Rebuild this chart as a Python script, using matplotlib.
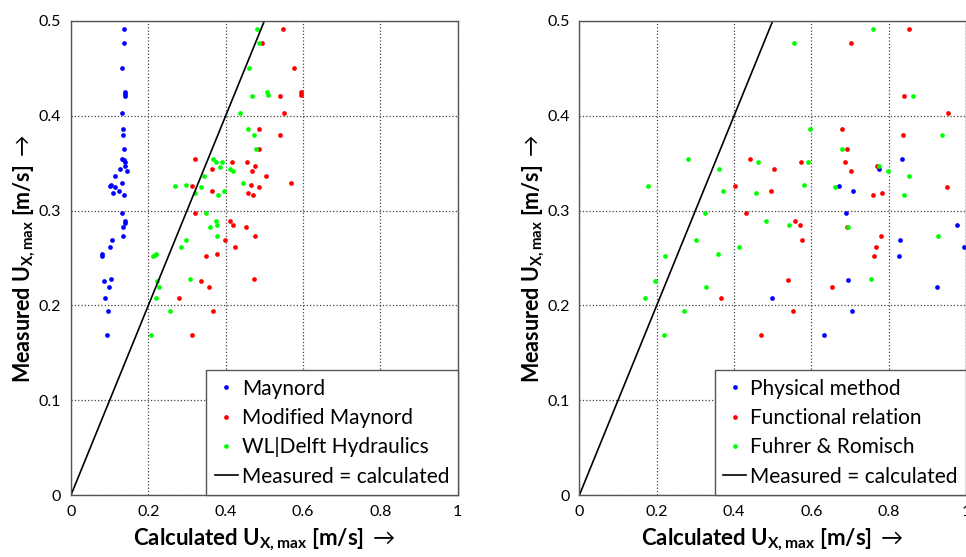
import matplotlib
matplotlib.use("Agg")
import matplotlib.pyplot as plt

# fonts - Lato is the closest thing to Calibri we have here
plt.rcParams['font.family'] = ['Lato', 'DejaVu Sans']
plt.rcParams['mathtext.fontset'] = 'custom'
plt.rcParams['mathtext.rm'] = 'Lato'
plt.rcParams['mathtext.bf'] = 'Lato:bold'
plt.rcParams['mathtext.it'] = 'Lato:italic'

# ---------------- left panel data ----------------
maynord_x = [0.138, 0.138, 0.133, 0.140, 0.140, 0.139, 0.131, 0.1345, 0.135, 0.138,
             0.133, 0.138, 0.140, 0.128, 0.139, 0.144, 0.113, 0.101, 0.104, 0.113,
             0.131, 0.108, 0.125, 0.138, 0.131, 0.139, 0.139, 0.134, 0.135, 0.105,
             0.100, 0.080, 0.080, 0.085, 0.104, 0.099, 0.088, 0.096, 0.094]
maynord_y = [0.4916, 0.4768, 0.4508, 0.4248, 0.4227, 0.4209, 0.403, 0.386, 0.380, 0.365,
             0.3548, 0.3534, 0.3513, 0.3439, 0.3467, 0.342, 0.3368, 0.3263, 0.3267, 0.3246,
             0.3288, 0.3186, 0.321, 0.316, 0.2975, 0.2894, 0.2873, 0.2827, 0.2732, 0.269,
             0.2613, 0.2542, 0.2518, 0.2261, 0.2282, 0.2194, 0.2078, 0.194, 0.1685]

mod_maynord_x = [0.547, 0.495, 0.577, 0.541, 0.594, 0.594, 0.550, 0.485, 0.541, 0.487,
                 0.321, 0.417, 0.454, 0.476, 0.365, 0.468, 0.504, 0.568, 0.465, 0.314,
                 0.486, 0.365, 0.457, 0.471, 0.321, 0.410, 0.418, 0.452, 0.475, 0.399,
                 0.425, 0.349, 0.378, 0.337, 0.357, 0.473, 0.279, 0.368, 0.312]
mod_maynord_y = [0.4916, 0.4768, 0.4508, 0.4209, 0.4248, 0.4219, 0.403, 0.386, 0.380, 0.365,
                 0.3548, 0.3516, 0.3516, 0.3467, 0.3439, 0.342, 0.3368, 0.3288, 0.327, 0.3263,
                 0.325, 0.321, 0.3186, 0.316, 0.2975, 0.2894, 0.2848, 0.283, 0.2735, 0.269,
                 0.2613, 0.2518, 0.2542, 0.2261, 0.2194, 0.2282, 0.2078, 0.194, 0.1685]

wl_delft_x = [0.482, 0.486, 0.4605, 0.506, 0.509, 0.469, 0.4365, 0.457, 0.474, 0.479,
              0.368, 0.374, 0.391, 0.386, 0.410, 0.419, 0.344, 0.445, 0.268, 0.298,
              0.337, 0.396, 0.320, 0.379, 0.349, 0.375, 0.378, 0.359, 0.378, 0.2975,
              0.285, 0.212, 0.217, 0.221, 0.222, 0.227, 0.309, 0.221, 0.256, 0.206]
wl_delft_y = [0.4916, 0.4768, 0.4508, 0.4251, 0.4219, 0.4209, 0.403, 0.386, 0.380, 0.365,
              0.3548, 0.3516, 0.3516, 0.3463, 0.3439, 0.342, 0.3368, 0.3288, 0.3263, 0.3267,
              0.325, 0.321, 0.3186, 0.316, 0.2975, 0.2894, 0.2848, 0.283, 0.2735, 0.269,
              0.2613, 0.2518, 0.2535, 0.2542, 0.2261, 0.2194, 0.2282, 0.2078, 0.194, 0.1685]

# ---------------- right panel data ----------------
physical_x = [0.834, 0.774, 0.6717, 0.707, 0.690, 0.978, 0.830, 0.995, 0.827, 0.694,
              0.925, 0.498, 0.705, 0.633]
physical_y = [0.3548, 0.3439, 0.3263, 0.321, 0.2975, 0.2848, 0.2687, 0.2613, 0.2518, 0.2265,
              0.2194, 0.2078, 0.1938, 0.1685]

functional_x = [0.852, 0.7027, 0.839, 0.9545, 0.679, 0.837, 0.6916, 0.440, 0.574, 0.6873,
                0.5027, 0.7027, 0.769, 0.402, 0.950, 0.495, 0.759, 0.784, 0.431, 0.558,
                0.5716, 0.692, 0.780, 0.575, 0.767, 0.761, 0.539, 0.654, 0.366, 0.5527, 0.470]
functional_y = [0.4916, 0.4768, 0.4209, 0.403, 0.386, 0.380, 0.365, 0.3548, 0.3516, 0.3516,
                0.3439, 0.342, 0.3467, 0.3263, 0.325, 0.321, 0.316, 0.3186, 0.2975, 0.289,
                0.2848, 0.2827, 0.2732, 0.2687, 0.2613, 0.2518, 0.2265, 0.2194, 0.2078, 0.1938, 0.1685]

fuhrer_x = [0.760, 0.5545, 0.864, 0.5966, 0.939, 0.679, 0.282, 0.463, 0.5907, 0.776,
            0.362, 0.799, 0.852, 0.581, 0.1775, 0.661, 0.372, 0.4577, 0.839, 0.326,
            0.483, 0.542, 0.694, 0.9286, 0.301, 0.413, 0.2215, 0.358, 0.195, 0.753,
            0.328, 0.169, 0.2706, 0.218]
fuhrer_y = [0.4916, 0.4768, 0.4209, 0.386, 0.380, 0.365, 0.3548, 0.3516, 0.3516, 0.3467,
            0.3439, 0.342, 0.3368, 0.327, 0.3263, 0.325, 0.321, 0.3186, 0.316, 0.2975,
            0.289, 0.2848, 0.2827, 0.2732, 0.269, 0.2613, 0.2518, 0.2542, 0.2261, 0.2282,
            0.2194, 0.2078, 0.194, 0.1685]

x_ticks = [0, 0.2, 0.4, 0.6, 0.8, 1]
x_ticklabels = ['0', '0.2', '0.4', '0.6', '0.8', '1']
y_ticks = [0, 0.1, 0.2, 0.3, 0.4, 0.5]
y_ticklabels = ['0', '0.1', '0.2', '0.3', '0.4', '0.5']

XLABEL = r'Calculated U$_{\mathbf{X,max}}$ [m/s] $\rightarrow$'
YLABEL = r'Measured U$_{\mathbf{X,max}}$ [m/s] $\rightarrow$'


def style_axes(ax):
    ax.set_xlim(0, 1)
    ax.set_ylim(0, 0.5)
    ax.set_xticks(x_ticks)
    ax.set_xticklabels(x_ticklabels)
    ax.set_yticks(y_ticks)
    ax.set_yticklabels(y_ticklabels)
    ax.tick_params(length=0, labelsize=11.5, pad=7)
    ax.grid(True, linestyle=':', color='#444444', linewidth=0.9)
    ax.set_axisbelow(True)
    for s in ax.spines.values():
        s.set_color('#555555')
        s.set_linewidth(1.0)
    ax.set_xlabel(XLABEL, fontsize=16, fontweight='bold', labelpad=5)
    ax.set_ylabel(YLABEL, fontsize=15.5, fontweight='bold', labelpad=1)


def scatter(ax, x, y, color, label):
    # plain dots, no line
    ax.plot(x, y, linestyle='none', marker='o', markersize=3.4,
            markeredgewidth=0, color=color, label=label)


def add_legend(ax):
    leg = ax.legend(loc='lower right', borderaxespad=0, fontsize=15,
                    handlelength=1.1, handletextpad=0.2, borderpad=0.4,
                    labelspacing=0.45, fancybox=False, framealpha=1,
                    edgecolor='#555555')
    leg.get_frame().set_linewidth(1.0)


def main():
    fig = plt.figure(figsize=(9.66, 5.57), dpi=100)
    ax1 = fig.add_axes([0.0735, 0.1113, 0.4003, 0.851])
    ax2 = fig.add_axes([0.5998, 0.1113, 0.4002, 0.851])

    scatter(ax1, maynord_x, maynord_y, '#0000ff', 'Maynord')
    scatter(ax1, mod_maynord_x, mod_maynord_y, '#ff0000', 'Modified Maynord')
    scatter(ax1, wl_delft_x, wl_delft_y, '#00ff00', 'WL|Delft Hydraulics')
    ax1.plot([0, 1], [0, 1], color='black', linewidth=1.2, label='Measured = calculated')

    scatter(ax2, physical_x, physical_y, '#0000ff', 'Physical method')
    scatter(ax2, functional_x, functional_y, '#ff0000', 'Functional relation')
    scatter(ax2, fuhrer_x, fuhrer_y, '#00ff00', 'Fuhrer & Romisch')
    ax2.plot([0, 1], [0, 1], color='black', linewidth=1.2, label='Measured = calculated')

    for ax in (ax1, ax2):
        style_axes(ax)
        add_legend(ax)

    fig.savefig('out.png', dpi=100)


if __name__ == "__main__":
    main()
